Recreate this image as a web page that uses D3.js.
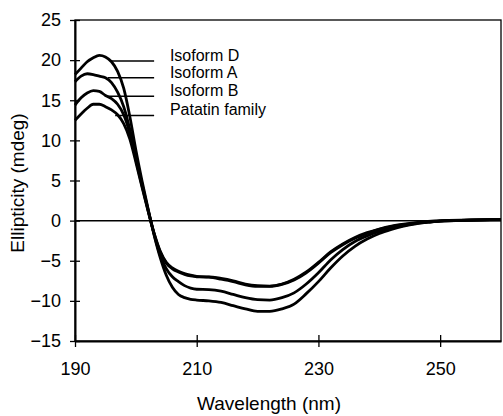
<!DOCTYPE html>
<html lang="en">
<head>
    <meta charset="UTF-8">
    <script src="https://d3js.org/d3.v7.min.js"></script>
    <title>CD spectra</title>
    <style>
        body { margin: 0; background: #fff; }
        svg { display: block; }
        text { font-family: "Liberation Sans", Arial, sans-serif; fill: #000; }
    </style>
</head>
<body>

<script>
    // Wavelength sampling (nm)
    const wavelengths = [190, 191, 192, 193, 194, 195, 196, 197, 198, 199, 200, 201, 202, 203, 204, 205, 206, 207, 208, 209, 210,
        212, 214, 216, 218, 220, 222, 224, 226, 228, 230, 232, 234, 236, 238, 240, 242, 244, 246, 248, 250, 255, 260];

    // Ellipticity (mdeg)
    const isoformD = [18.2, 19.0, 19.8, 20.3, 20.6, 20.4, 19.8, 18.6, 16.5, 13.0, 8.8, 5.0, 1.5, -1.8, -4.6, -6.8, -8.3, -9.2, -9.6, -9.8, -9.9,
        -10.0, -10.2, -10.6, -11.0, -11.3, -11.3, -11.0, -10.4, -9.1, -7.6, -5.9, -4.4, -3.2, -2.3, -1.6, -1.1, -0.7, -0.4, -0.2, -0.05, 0.05, 0.15];
    const isoformA = [17.3, 18.0, 18.3, 18.2, 18.0, 17.8, 17.2, 16.0, 14.2, 11.4, 7.9, 4.6, 1.4, -1.7, -4.3, -6.0, -7.0, -7.6, -8.1, -8.4, -8.55,
        -8.6, -8.8, -9.2, -9.6, -9.85, -9.9, -9.6, -9.0, -7.9, -6.5, -4.9, -3.6, -2.6, -1.9, -1.35, -0.95, -0.6, -0.35, -0.2, -0.05, 0.05, 0.15];
    const isoformB = [14.4, 15.3, 15.9, 16.2, 16.1, 15.6, 15.2, 14.5, 13.2, 10.9, 7.6, 4.4, 1.3, -1.6, -3.9, -5.3, -6.0, -6.4, -6.7, -6.9, -7.0,
        -7.0, -7.2, -7.5, -7.9, -8.1, -8.15, -7.9, -7.3, -6.4, -5.2, -3.9, -2.9, -2.1, -1.5, -1.05, -0.7, -0.45, -0.25, -0.1, 0, 0.08, 0.15];
    const patatin = [12.5, 13.3, 14.0, 14.5, 14.5, 14.2, 13.8, 13.2, 12.1, 10.2, 7.3, 4.2, 1.2, -1.6, -3.8, -5.2, -5.9, -6.3, -6.6, -6.8, -6.95,
        -7.05, -7.3, -7.6, -8.0, -8.2, -8.2, -7.95, -7.4, -6.5, -5.3, -4.0, -3.0, -2.2, -1.6, -1.1, -0.75, -0.5, -0.3, -0.15, -0.05, 0.05, 0.1];

    // Legend labels with leader lines (value and wavelength where each leader starts)
    const labels = ["Isoform D", "Isoform A", "Isoform B", "Patatin family"];
    const leaderValue = [19.9, 17.8, 15.5, 13.1];
    const leaderStart = [196.0, 195.4, 195.3, 196.6];
    const leaderEnd = 203;
    const labelAt = 205.6;

    const xTicks = [190, 210, 230, 250];
    const yTicks = [-15, -10, -5, 0, 5, 10, 15, 20, 25];

    const series = [isoformD, isoformA, isoformB, patatin];

    const margin = { top: 20, right: 2, bottom: 75, left: 75 };
    const width = 503 - margin.left - margin.right;
    const height = 416 - margin.top - margin.bottom;

    const svg = d3.select("body")
        .append("svg")
        .attr("width", 503)
        .attr("height", 416);

    const g = svg.append("g")
        .attr("transform", "translate(" + margin.left + "," + margin.top + ")");

    const x = d3.scaleLinear().domain([190, 260]).range([0, width]);
    const y = d3.scaleLinear().domain([-15, 25]).range([height, 0]);

    // frame (top and right)
    g.append("rect")
        .attr("width", width)
        .attr("height", height)
        .attr("fill", "none")
        .attr("stroke", "#000")
        .attr("stroke-width", 1.3);

    // zero line
    g.append("line")
        .attr("x1", 0).attr("x2", width)
        .attr("y1", y(0)).attr("y2", y(0))
        .attr("stroke", "#000")
        .attr("stroke-width", 1.5);

    // axes
    const yAxis = g.append("g")
        .call(d3.axisLeft(y).tickValues(yTicks).tickSize(5).tickSizeOuter(0).tickPadding(9));
    yAxis.selectAll(".tick line").attr("x1", 5).attr("stroke-width", 1.3);
    yAxis.select(".domain").attr("stroke-width", 2);
    yAxis.selectAll("text").style("font-size", "18px");

    const xAxis = g.append("g")
        .attr("transform", "translate(0," + height + ")")
        .call(d3.axisBottom(x).tickValues(xTicks).tickSize(6).tickSizeOuter(0).tickPadding(15));
    xAxis.selectAll(".tick line").attr("y1", -6).attr("stroke-width", 1.3);
    xAxis.select(".domain").attr("stroke-width", 2);
    xAxis.selectAll("text").style("font-size", "18px");

    // leader lines
    g.selectAll(".leader")
        .data(labels)
        .enter().append("line")
        .attr("class", "leader")
        .attr("x1", (d, i) => x(leaderStart[i]))
        .attr("x2", x(leaderEnd))
        .attr("y1", (d, i) => y(leaderValue[i]))
        .attr("y2", (d, i) => y(leaderValue[i]))
        .attr("stroke", "#000")
        .attr("stroke-width", 1.6);

    g.selectAll(".label")
        .data(labels)
        .enter().append("text")
        .attr("class", "label")
        .attr("x", x(labelAt))
        .attr("y", (d, i) => y(leaderValue[i]))
        .style("font-size", "16px")
        .text(d => d);

    // spectra
    const line = d3.line()
        .x((d, i) => x(wavelengths[i]))
        .y(d => y(d))
        .curve(d3.curveMonotoneX);

    g.selectAll(".spectrum")
        .data(series)
        .enter().append("path")
        .attr("class", "spectrum")
        .attr("d", line)
        .attr("fill", "none")
        .attr("stroke", "#000")
        .attr("stroke-width", 2.8)
        .attr("stroke-linejoin", "round");

    // axis titles
    svg.append("text")
        .attr("x", 269)
        .attr("y", 410)
        .attr("text-anchor", "middle")
        .style("font-size", "19px")
        .text("Wavelength (nm)");

    svg.append("text")
        .attr("transform", "translate(24,183) rotate(-90)")
        .attr("text-anchor", "middle")
        .style("font-size", "19px")
        .text("Ellipticity (mdeg)");
</script>

</body>
</html>
